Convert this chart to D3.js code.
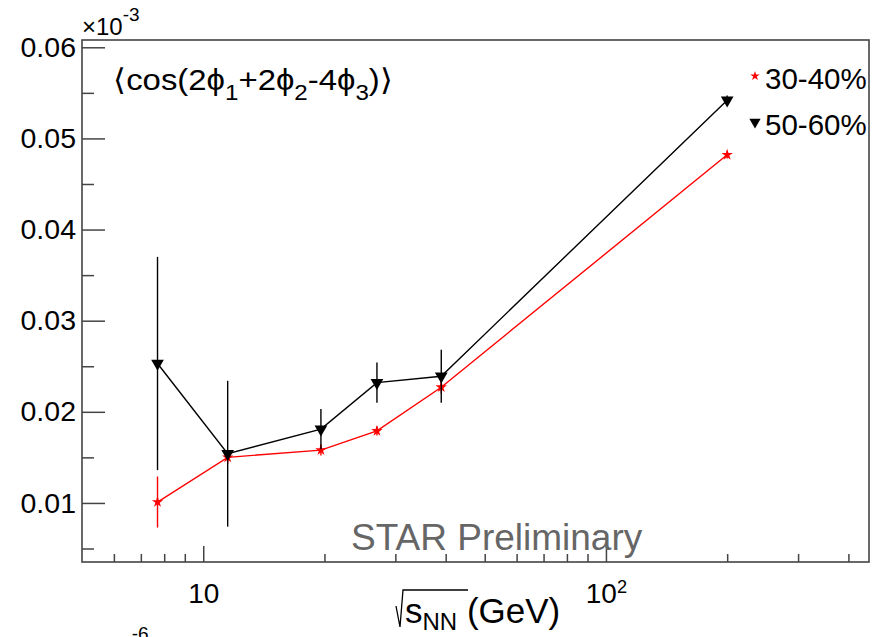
<!DOCTYPE html>
<html lang="en">
<head>
<meta charset="utf-8">
<title>cos(2phi1+2phi2-4phi3) vs energy</title>
<script src="https://cdn.jsdelivr.net/npm/d3@7/dist/d3.min.js"></script>
<style>
  body { margin: 0; background: #fff; }
  svg { font-family: "Liberation Sans", Arial, Helvetica, sans-serif; display: block; }
</style>
</head>
<body>
<script>
// collision energies (GeV)
var energies = [7.7, 11.5, 19.6, 27, 39, 200];
// 30-40% centrality
var central = [0.0101, 0.0150, 0.0158, 0.0179, 0.0227, 0.0482];
var centralErr = [0.0028, 0.0007, 0.0006, 0.0005, 0.0007, 0.0004];
// 50-60% centrality
var peripheral = [0.0253, 0.0154, 0.0181, 0.0232, 0.0239, 0.0542];
var peripheralErr = [0.0117, 0.0080, 0.0022, 0.0022, 0.0029, 0.0005];

var yMajor = [0.01, 0.02, 0.03, 0.04, 0.05, 0.06];
var yMinor = [0.005, 0.015, 0.025, 0.035, 0.045, 0.055];
var xMajor = [10, 100];
var xMinor = [6, 7, 8, 9, 20, 30, 40, 50, 60, 70, 80, 90, 200, 300, 400];

var W = 883, H = 637;
var mL = 82, mR = 869, mT = 40, mB = 562;

var svg = d3.select("body").append("svg")
  .attr("width", W).attr("height", H);

var x = d3.scaleLog().domain([5, 450]).range([mL, mR]);
var y = d3.scaleLinear().domain([0.00352, 0.0608]).range([mB, mT]);

var axisColor = "#444";

// y axis, ticks pointing into the frame
var yAx = svg.append("g").attr("transform", "translate(" + mL + ",0)")
  .call(d3.axisLeft(y).tickValues(yMajor).tickSize(-23).tickPadding(6)
    .tickFormat(function(d){ return d3.format(".2f")(d); }));
yAx.select(".domain").remove();
yAx.selectAll(".tick line").attr("stroke", axisColor).attr("stroke-width", 1.5);
yAx.selectAll(".tick text").attr("font-size", 28.5).attr("fill", "#000")
  .attr("font-family", "'Liberation Sans', Arial, sans-serif");

var yAxMinor = svg.append("g").attr("transform", "translate(" + mL + ",0)")
  .call(d3.axisLeft(y).tickValues(yMinor).tickSize(-12).tickFormat(""));
yAxMinor.select(".domain").remove();
yAxMinor.selectAll(".tick line").attr("stroke", axisColor).attr("stroke-width", 1.5);

// x axis
var xAx = svg.append("g").attr("transform", "translate(0," + mB + ")")
  .call(d3.axisBottom(x).tickValues(xMajor).tickSize(-16).tickPadding(21)
    .tickFormat(function(d){ return "10"; }));
xAx.select(".domain").remove();
xAx.selectAll(".tick line").attr("stroke", axisColor).attr("stroke-width", 1.5);
xAx.selectAll(".tick text").attr("font-size", 28).attr("fill", "#000")
  .attr("font-family", "'Liberation Sans', Arial, sans-serif")
  .each(function(d){
    if (d === 100) {
      d3.select(this).append("tspan").attr("dy", "-0.55em")
        .attr("font-size", "0.65em").text("2");
    }
  });

var xAxMinor = svg.append("g").attr("transform", "translate(0," + mB + ")")
  .call(d3.axisBottom(x).tickValues(xMinor).tickSize(-8).tickFormat(""));
xAxMinor.select(".domain").remove();
xAxMinor.selectAll(".tick line").attr("stroke", axisColor).attr("stroke-width", 1.5);

// frame
svg.append("rect")
  .attr("x", mL).attr("y", mT)
  .attr("width", mR - mL).attr("height", mB - mT)
  .attr("fill", "none").attr("stroke", axisColor).attr("stroke-width", 1.6);

// exponent labels
var e3 = svg.append("text").attr("x", 82).attr("y", 35).attr("font-size", 24);
e3.append("tspan").text("\u00d710");
e3.append("tspan").attr("dy", -14).attr("font-size", 19).text("-3");

var e6 = svg.append("text").attr("x", 105).attr("y", 654).attr("font-size", 24);
e6.append("tspan").text("10");
e6.append("tspan").attr("dy", -14).attr("font-size", 19).text("-6");

// title of observable
var t = svg.append("text").attr("x", 113).attr("y", 90).attr("font-size", 30)
  .attr("textLength", 280).attr("lengthAdjust", "spacingAndGlyphs");
t.append("tspan").text("\u27e8cos(2\u03d5");
t.append("tspan").attr("dy", 10).attr("font-size", 22).text("1");
t.append("tspan").attr("dy", -10).text("+2\u03d5");
t.append("tspan").attr("dy", 10).attr("font-size", 22).text("2");
t.append("tspan").attr("dy", -10).text("-4\u03d5");
t.append("tspan").attr("dy", 10).attr("font-size", 22).text("3");
t.append("tspan").attr("dy", -10).text(")\u27e9");

// x axis title
var xt = svg.append("text").attr("x", 405).attr("y", 623).attr("font-size", 35);
xt.append("tspan").text("s");
xt.append("tspan").attr("dy", 7).attr("font-size", 24).text("NN");
xt.append("tspan").attr("dy", -7).text(" (GeV)");
// radical sign
svg.append("path")
  .attr("d", "M396,606 L400,627 L403,590 L468,590")
  .attr("fill", "none").attr("stroke", "#000").attr("stroke-width", 1.3);

svg.append("text").attr("x", 351).attr("y", 550)
  .attr("font-size", 37).attr("fill", "#666").text("STAR Preliminary");

// series
var line = d3.line().x(function(d){ return x(d[0]); }).y(function(d){ return y(d[1]); });

function drawSeries(vals, errs, color, symbol, size, rotate) {
  var pts = energies.map(function(e, i){ return [e, vals[i], errs[i]]; });
  svg.append("g").selectAll("line").data(pts).enter().append("line")
    .attr("x1", function(d){ return x(d[0]); })
    .attr("x2", function(d){ return x(d[0]); })
    .attr("y1", function(d){ return y(d[1] - d[2]); })
    .attr("y2", function(d){ return y(d[1] + d[2]); })
    .attr("stroke", color).attr("stroke-width", 1.4);
  svg.append("path").datum(pts).attr("d", line)
    .attr("fill", "none").attr("stroke", color).attr("stroke-width", 1.4);
  svg.append("g").selectAll("path").data(pts).enter().append("path")
    .attr("d", d3.symbol().type(symbol).size(size))
    .attr("transform", function(d){
      return "translate(" + x(d[0]) + "," + y(d[1]) + ") rotate(" + rotate + ")";
    })
    .attr("fill", color);
}

drawSeries(central, centralErr, "#f00", d3.symbolStar, 40, 0);
drawSeries(peripheral, peripheralErr, "#000", d3.symbolTriangle, 70, 180);

// legend
var legend = [
  {label: "30-40%", color: "#f00", sym: d3.symbolStar, size: 28, rot: 0, y: 76},
  {label: "50-60%", color: "#000", sym: d3.symbolTriangle, size: 55, rot: 180, y: 122}
];
var lg = svg.append("g").selectAll("g").data(legend).enter().append("g");
lg.append("path")
  .attr("d", function(d){ return d3.symbol().type(d.sym).size(d.size)(); })
  .attr("transform", function(d){ return "translate(755," + d.y + ") rotate(" + d.rot + ")"; })
  .attr("fill", function(d){ return d.color; });
lg.append("text").attr("x", 765).attr("y", function(d){ return d.y + 13; })
  .attr("font-size", 29.5).text(function(d){ return d.label; });
</script>
</body>
</html>
